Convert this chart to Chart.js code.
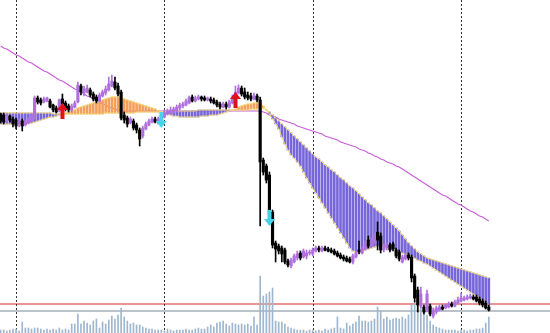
<!DOCTYPE html>
<html>
<head>
<meta charset="utf-8">
<title>M30 chart</title>
<script src="https://cdn.jsdelivr.net/npm/chart.js@4.4.1/dist/chart.umd.min.js"></script>
<style>
  html, body { margin: 0; padding: 0; background: #ffffff; }
  #wrap { position: relative; width: 550px; height: 333px; }
</style>
</head>
<body>
<div id="wrap"><canvas id="chart"></canvas></div>
<script>
// prices are pips above the base price, one entry per M30 bar
const opens = [
  219,218,212,217,214,213,208,212,208,210,
  212,215,235,233,231,232,232,228,225,222,
  234,230,227,223,226,231,247,240,241,243,
  239,236,232,237,240,243,247,251,247,241,
  218,215,210,212,208,203,197,204,208,211,
  214,211,213,216,219,221,221,222,225,227,
  228,230,236,232,234,236,235,233,234,233,
  231,229,226,229,226,230,235,240,245,241,
  238,237,234,237,233,173,167,158,121,90,
  87,85,83,72,67,71,75,80,76,77,
  80,79,82,85,82,85,84,83,82,80,
  78,76,75,74,71,76,83,80,84,93,
  87,91,101,97,83,85,88,89,83,81,
  71,74,78,76,57,43,27,26,23,27,
  17,21,23,26,25,26,29,27,30,32,
  33,34,35,36,36,34,32,30,26
];
const highs = [
  220,220,219,218,216,215,214,214,213,215,
  218,237,237,235,236,236,234,229,227,234,
  239,232,229,229,232,251,249,247,248,245,
  241,238,240,243,247,256,258,256,250,243,
  221,217,216,214,210,205,207,211,214,216,
  216,216,219,223,224,226,226,228,230,231,
  234,237,238,237,238,237,237,236,236,235,
  233,231,231,231,233,238,247,248,247,245,
  241,240,240,239,236,175,169,161,123,92,
  89,87,85,74,75,79,82,82,84,83,
  83,85,87,87,87,87,86,85,84,82,
  80,78,77,76,79,82,92,86,92,97,
  95,100,111,100,89,90,90,91,85,83,
  78,80,80,78,59,46,46,28,43,29,
  25,27,28,28,29,31,31,33,36,40,
  37,38,39,38,38,36,34,32,28
];
const lows = [
  210,209,211,211,206,204,206,202,207,209,
  211,214,229,228,230,231,225,221,220,221,
  227,222,221,221,225,230,238,237,240,236,
  232,230,231,236,238,242,246,243,237,213,
  210,206,209,203,200,187,195,203,207,210,
  210,209,212,215,218,219,220,221,223,225,
  227,229,231,231,233,232,232,232,230,229,
  226,224,225,224,225,229,234,239,237,234,
  233,232,233,231,107,158,150,111,85,71,
  79,71,69,66,65,70,73,73,75,74,
  78,77,81,81,81,82,81,80,78,76,
  74,72,71,70,69,75,79,79,83,85,
  86,90,83,80,81,83,81,82,75,72,
  70,73,73,51,31,21,25,19,21,17,
  15,19,22,23,24,25,26,26,29,31,
  32,33,34,33,31,28,26,24,22
];
const closes = [
  212,211,217,213,209,207,212,207,211,213,
  216,235,231,230,234,235,226,223,221,233,
  229,224,223,227,230,248,241,244,245,238,
  234,232,238,241,244,249,252,245,239,215,
  213,209,214,205,203,194,205,209,212,214,
  211,214,217,220,222,223,224,226,228,229,
  232,235,232,235,236,234,233,235,232,230,
  228,226,229,226,231,236,241,245,239,236,
  235,234,237,233,171,161,153,118,88,84,
  82,79,71,68,73,77,79,75,82,80,
  81,83,85,83,85,83,82,81,79,77,
  75,74,72,71,77,80,81,84,89,87,
  92,97,93,83,87,88,83,84,77,74,
  76,78,75,55,35,28,39,21,39,19,
  23,25,26,24,28,29,27,31,33,35,
  35,36,37,34,32,30,28,25,23
];
// moving averages
const fastMA = [
  209,209,209,209,209,209,209,209,209,210,
  210,211,212,213,214,215,216,216,217,218,
  219,220,221,222,223,225,226,227,228,229,
  230,231,232,233,234,235,236,236,236,235,
  234,233,232,231,230,229,228,227,226,225,
  224,222,221,220,219,218,217,217,216,216,
  216,216,216,216,216,217,217,217,218,218,
  218,219,220,221,222,223,224,226,227,228,
  229,229,230,230,230,227,223,219,214,209,
  204,196,189,183,178,175,171,167,161,155,
  150,145,140,135,130,125,120,115,110,105,
  100,95,90,85,82,81,81,82,83,84,
  85,86,87,87,87,86,85,84,83,81,
  80,79,78,77,75,73,72,70,69,67,
  65,63,61,59,57,55,53,51,49,47,
  45,43,41,39,37,35,33,31,28
];
const slowMA = [
  220,220,220,220,220,220,220,220,220,220,
  220,220,220,220,220,220,220,219,219,219,
  219,219,219,219,219,219,219,219,219,219,
  219,219,219,219,220,220,220,220,220,220,
  220,220,220,220,221,221,221,221,221,221,
  221,221,221,221,222,222,222,222,222,222,
  222,222,222,222,223,223,223,223,223,223,
  223,223,223,223,223,223,223,223,223,223,
  223,224,224,224,225,225,223,221,218,215,
  212,209,206,203,200,197,194,191,188,185,
  182,179,176,174,171,168,166,163,161,158,
  155,153,150,147,145,142,139,136,133,130,
  128,125,122,120,117,114,111,108,105,102,
  98,94,90,87,84,81,79,77,75,74,
  73,72,71,70,69,68,67,66,65,64,
  63,62,61,60,59,58,57,56,55
];
const trendMA = [
  287,285,284,282,280,278,277,275,273,271,
  270,268,266,264,262,261,259,257,255,253,
  252,250,248,246,244,243,241,239,237,236,
  234,232,231,229,228,226,225,224,223,223,
  222,222,222,222,222,222,222,222,222,222,
  222,222,222,222,222,222,222,222,222,222,
  222,222,222,222,222,222,222,222,222,222,
  222,222,222,222,222,222,222,222,222,222,
  222,222,222,222,222,221,220,218,217,216,
  214,213,212,211,210,209,207,206,205,204,
  203,202,201,200,199,197,196,195,194,193,
  191,190,189,188,187,186,184,183,182,180,
  179,177,176,174,173,171,170,169,167,166,
  164,162,160,158,156,154,152,150,148,146,
  144,142,140,138,137,135,133,131,129,128,
  126,124,122,121,119,117,116,114,112
];
const volumes = [
  30,30,20,30,40,40,20,110,50,50,
  40,50,50,40,30,40,30,40,30,50,
  30,40,30,90,90,190,90,120,100,80,
  120,140,50,110,90,130,170,140,180,250,
  160,120,90,100,80,80,60,50,40,40,
  30,30,30,20,40,30,20,30,30,30,
  40,30,30,40,50,40,40,60,80,60,
  100,110,120,90,70,100,90,80,90,80,
  90,70,160,80,570,370,390,410,450,120,
  110,110,90,60,50,40,30,30,30,20,
  30,30,20,30,20,40,30,40,50,160,
  50,40,100,70,90,110,170,120,120,110,
  120,140,260,220,140,160,130,140,150,140,
  160,140,180,280,320,300,350,220,180,120,
  80,60,50,40,30,30,30,30,20,30,
  30,20,30,30,40,40,50,100,160
];
// crossover signals
const upBars = [20, 76];
const upLevels = [222, 233];
const downBars = [52, 87];
const downLevels = [213, 115];
// day separators and horizontal levels
const separators = [5, 53, 101, 149];
const levels = [29, 22];

const bars = opens.map((_, i) => i);
const candleColor = bars.map(i => closes[i] >= opens[i] ? '#B070DE' : '#000000');
const bandColor = bars.map(i => fastMA[i] >= slowMA[i] ? '#F5A05A' : '#7766DA');

function arrowImage(color, down) {
  const c = document.createElement('canvas');
  c.width = 11; c.height = 16;
  const g = c.getContext('2d');
  g.fillStyle = color;
  g.beginPath();
  if (down) {
    g.moveTo(5.5, 16); g.lineTo(11, 9); g.lineTo(7.5, 9); g.lineTo(7.5, 0);
    g.lineTo(3.5, 0); g.lineTo(3.5, 9); g.lineTo(0, 9);
  } else {
    g.moveTo(5.5, 0); g.lineTo(11, 7); g.lineTo(7.5, 7); g.lineTo(7.5, 16);
    g.lineTo(3.5, 16); g.lineTo(3.5, 7); g.lineTo(0, 7);
  }
  g.closePath();
  g.fill();
  return c;
}

const overlay = {
  id: 'overlay',
  beforeDatasetsDraw(chart) {
    const {ctx, chartArea: a, scales} = chart;
    ctx.save();
    // horizontal levels
    ctx.strokeStyle = '#E27272';
    ctx.lineWidth = 1.5;
    let py = scales.y.getPixelForValue(levels[0]);
    ctx.beginPath(); ctx.moveTo(a.left, py); ctx.lineTo(a.right, py); ctx.stroke();
    ctx.strokeStyle = '#BCC2CA';
    ctx.lineWidth = 2;
    py = scales.y.getPixelForValue(levels[1]);
    ctx.beginPath(); ctx.moveTo(a.left, py); ctx.lineTo(a.right, py); ctx.stroke();
    // separators
    ctx.strokeStyle = '#333333';
    ctx.lineWidth = 1;
    ctx.setLineDash([2, 2]);
    separators.forEach(s => {
      const px = Math.round(scales.x.getPixelForValue(s)) + 0.5;
      ctx.beginPath(); ctx.moveTo(px, a.top); ctx.lineTo(px, a.bottom); ctx.stroke();
    });
    ctx.restore();
  }
};

const config = {
  type: 'bar',
  data: {
    datasets: [
      {
        label: 'Volume',
        yAxisID: 'y2',
        data: bars.map(i => ({x: i, y: volumes[i]})),
        backgroundColor: '#9FB6CF',
        barThickness: 1,
        grouped: false,
        order: 10
      },
      {
        type: 'line',
        label: 'Trend MA',
        data: bars.map(i => ({x: i, y: trendMA[i]})),
        borderColor: '#C860D6',
        borderWidth: 1.2,
        pointRadius: 0,
        order: 9
      },
      {
        label: 'Band',
        data: bars.map(i => ({x: i, y: [fastMA[i], slowMA[i]]})),
        backgroundColor: bandColor,
        barThickness: 2,
        grouped: false,
        order: 8
      },
      {
        type: 'line',
        label: 'Slow MA',
        data: bars.map(i => ({x: i, y: slowMA[i]})),
        borderColor: '#F3D874',
        borderWidth: 1,
        pointRadius: 0,
        order: 7
      },
      {
        type: 'line',
        label: 'Fast MA',
        data: bars.map(i => ({x: i, y: fastMA[i]})),
        borderColor: '#F3D874',
        borderWidth: 1,
        pointRadius: 0,
        order: 7
      },
      {
        label: 'Wick',
        data: bars.map(i => ({x: i, y: [lows[i], highs[i]]})),
        backgroundColor: candleColor,
        barThickness: 1,
        grouped: false,
        order: 4
      },
      {
        label: 'Body',
        data: bars.map(i => ({x: i, y: [opens[i], closes[i]]})),
        backgroundColor: candleColor,
        barThickness: 2.5,
        minBarLength: 1,
        grouped: false,
        order: 3
      },
      {
        type: 'scatter',
        label: 'Buy',
        data: upBars.map((b, k) => ({x: b, y: upLevels[k]})),
        pointStyle: arrowImage('#E0101A', false),
        order: 1
      },
      {
        type: 'scatter',
        label: 'Sell',
        data: downBars.map((b, k) => ({x: b, y: downLevels[k]})),
        pointStyle: arrowImage('#45D4E8', true),
        order: 1
      }
    ]
  },
  options: {
    responsive: true,
    maintainAspectRatio: false,
    animation: false,
    layout: { padding: 0, autoPadding: false },
    scales: {
      x: { type: 'linear', min: -0.2, max: 177.8, offset: false, display: false },
      y: { type: 'linear', min: 0, max: 333, display: false },
      y2: { type: 'linear', min: 0, max: 3330, display: false }
    },
    plugins: {
      legend: { display: false },
      tooltip: { enabled: false }
    }
  },
  plugins: [overlay]
};

new Chart(document.getElementById('chart'), config);
</script>
</body>
</html>
